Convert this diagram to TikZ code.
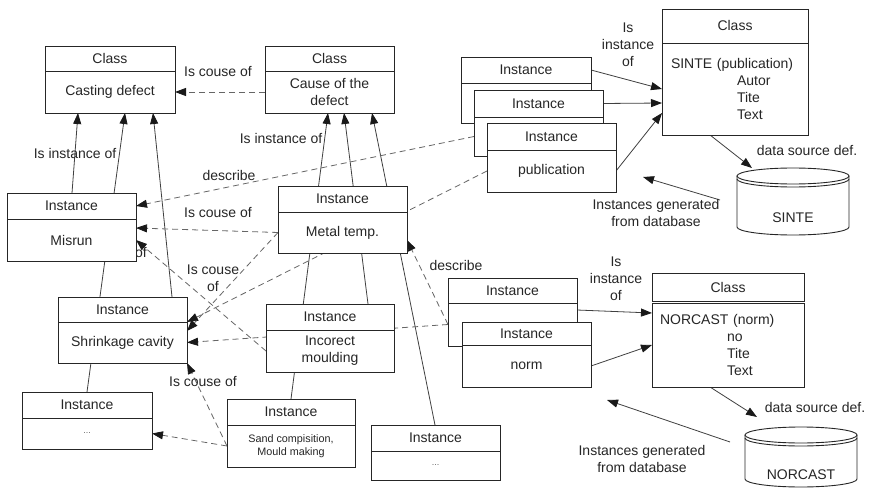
\documentclass[tikz,border=0pt]{standalone}
\usepackage{fontspec}
\setsansfont{Liberation Sans}
\usetikzlibrary{arrows.meta, positioning, calc, backgrounds}

\begin{document}
\begin{tikzpicture}[
    x=1pt, y=-1pt,
    font=\sffamily\fontsize{14}{17}\selectfont,
    >={Triangle[length=11pt, width=8pt, color=black!90]},
    hd/.style={draw=black!85, fill=white, line width=0.9pt, outer sep=0pt, minimum width=129pt, minimum height=26pt, inner sep=0pt, anchor=north west, text=black!85},
    bd/.style={draw=black!85, fill=white, line width=0.9pt, outer sep=0pt, minimum width=129pt, inner sep=2pt, align=center, text=black!85, below=0pt of #1},
    dots/.style={font=\sffamily\fontsize{9}{11}\selectfont, text=black!60},
    inst/.style={->, black!75, line width=0.8pt},
    rel/.style={->, black!60, line width=0.8pt, dash pattern=on 6pt off 4pt},
    lbl/.style={text=black!85, align=center, inner sep=1pt},
    db/.style={draw=black!85, line width=0.9pt}
]
\useasboundingbox (0,0) rectangle (869,494);

    % Classes of the defect model
    \node[hd, minimum width=130pt, minimum height=25pt] (castdef-h) at (45,46) {Class};
    \node[bd=castdef-h, minimum width=130pt, minimum height=42pt] (castdef) {Casting defect};
    \node[hd, minimum height=25pt] (cause-h) at (265,46) {Class};
    \node[bd=cause-h, minimum height=42pt] (cause) {Cause of the\\defect};

    % Instances
    \node[hd] (misrun-h) at (7,193) {Instance};
    \node[bd=misrun-h, minimum height=42pt] (misrun) {Misrun};
    \node[hd] (metal-h) at (278,186) {Instance};
    \node[bd=metal-h, minimum height=41pt] (metal) {Metal temp.};
    \node[hd, minimum height=25pt] (shrink-h) at (58,297) {Instance};
    \node[bd=shrink-h, minimum height=41pt] (shrink) {Shrinkage cavity};
    \node[hd, minimum width=130pt] (moreL-h) at (22,392) {Instance};
    \node[bd=moreL-h, minimum width=130pt, minimum height=31pt, dots] (moreL) {...};
    \node[hd, minimum width=128pt] (moulding-h) at (266,304) {Instance};
    \node[bd=moulding-h, minimum width=128pt, minimum height=42pt] (moulding) {Incorect\\moulding};
    \node[hd, minimum width=128pt] (sand-h) at (227,399) {Instance};
    \node[bd=sand-h, minimum width=128pt, minimum height=42pt, font=\sffamily\fontsize{10.8}{13}\selectfont] (sand) {Sand compisition,\\Mould making};
    \node[hd] (moreM-h) at (371,425) {Instance};
    \node[bd=moreM-h, minimum height=29pt, dots] (moreM) {...};

    % --- SINTE ---
    \node[hd, minimum width=130pt] (pubA-h) at (461,57) {Instance};
    \node[bd=pubA-h, minimum width=130pt, minimum height=40pt] (pubA) {};
    \node[hd, minimum height=27pt] (pubB-h) at (474,90) {Instance};
    \node[bd=pubB-h, minimum height=39pt] (pubB) {};
    \node[hd, minimum height=27pt] (pubC-h) at (487,123) {Instance};
    \node[bd=pubC-h, minimum height=42pt] (pubC) {publication};

    \node[hd, minimum width=146pt, minimum height=34pt] (sinte-h) at (662,9) {Class};
    \node[bd=sinte-h, minimum width=146pt, minimum height=92pt, align=left, text width=128pt] (sinte)
        {SINTE (publication)\\\hspace*{66pt}Autor\\\hspace*{66pt}Tite\\\hspace*{66pt}Text};

    \draw[db] (737,176) -- (737,227) arc[start angle=180, end angle=0, x radius=56, y radius=8] -- (849,176);
    \draw[db] (793,176) ellipse[x radius=56, y radius=8];
    \draw[db] (737,179) arc[start angle=180, end angle=0, x radius=56, y radius=8];
    \node[lbl] (sintedb) at (793,218) {SINTE};
    \coordinate (sintedb-in) at (752,168);
    \coordinate (sintedb-out) at (720,200);
    \coordinate (sintegen) at (643,177);

    % --- NORCAST ---
    \node[hd, minimum height=25pt] (normD-h) at (448,278) {Instance};
    \node[bd=normD-h, minimum height=43pt] (normD) {};
    \node[hd, minimum height=23pt] (normE-h) at (462,322) {Instance};
    \node[bd=normE-h, minimum height=42pt] (normE) {norm};

    \node[hd, minimum width=152pt, minimum height=28pt] (norcast-h) at (652,273) {Class};
    \node[bd=norcast-h, below=2pt of norcast-h, minimum width=152pt, minimum height=84pt, align=left, text width=136pt] (norcast)
        {NORCAST (norm)\\\hspace*{67pt}no\\\hspace*{67pt}Tite\\\hspace*{67pt}Text};

    \draw[db] (745,435) -- (745,479) arc[start angle=180, end angle=0, x radius=56, y radius=8] -- (857,435);
    \draw[db] (801,435) ellipse[x radius=56, y radius=8];
    \draw[db] (745,438) arc[start angle=180, end angle=0, x radius=56, y radius=8];
    \node[lbl] (norcastdb) at (801,475) {NORCAST};
    \coordinate (norcastdb-in) at (757,417);
    \coordinate (norcastdb-out) at (730,442);
    \coordinate (norcastgen) at (607,400);

    \begin{scope}[on background layer]
    \fill[white] (0,0) rectangle (869,494);

    % Is instance of
    \draw[inst] ($(misrun-h.north west)+(65,0)$) -- ($(castdef.south west)+(33,0)$);
    \draw[inst] ($(moreL-h.north west)+(65,0)$) -- ($(castdef.south west)+(80,0)$);
    \draw[inst] ($(shrink-h.north west)+(114,0)$) -- ($(castdef.south west)+(108,0)$);
    \draw[inst] ($(sand-h.north west)+(64,0)$) -- ($(cause.south west)+(63,0)$);
    \draw[inst] ($(moulding-h.north west)+(102,0)$) -- ($(cause.south west)+(79,0)$);
    \draw[inst] ($(moreM-h.north west)+(64,0)$) -- ($(cause.south west)+(107,0)$);
    \draw[inst] (pubA-h.east) -- (sinte.west);
    \draw[inst] (pubB-h.east) -- ($(sinte.west)+(0,14)$);
    \draw[inst] (pubC.east) -- ($(sinte.west)+(0,24)$);
    \draw[inst] ($(normD.north east)+(0,7)$) -- ($(norcast.north west)+(0,10)$);
    \draw[inst] (normE.east) -- ($(norcast.north west)+(0,42)$);
    \node[lbl] (l-inst1) at (75,153) {Is instance of};
    \node[lbl] (l-inst2) at (281,138) {Is instance of};
    \node[lbl] (l-inst3) at (628,45) {Is\\instance\\of};
    \node[lbl] (l-inst4) at (616,279) {Is\\instance\\of};

    % data sources
    \draw[inst] ($(sinte.south west)+(48,0)$) -- (sintedb-in);
    \draw[inst] (sintedb-out) -- (sintegen);
    \draw[inst] ($(norcast.south west)+(58,0)$) -- (norcastdb-in);
    \draw[inst] (norcastdb-out) -- (norcastgen);
    \node[lbl] (l-src1) at (807,150) {data source def.};
    \node[lbl] (l-src2) at (815,407) {data source def.};
    \node[lbl] (l-gen1) at (656,213) {Instances generated\\from database};
    \node[lbl] (l-gen2) at (642,459) {Instances generated\\from database};

    % Is couse of / describe
    \draw[rel] (cause.west) -- (castdef.east);
    \draw[rel] (pubB.west) -- (misrun-h.east);
    \draw[rel] (pubC.west) -- (shrink.north east);
    \draw[rel] (metal.west) -- ($(misrun.north east)+(0,9)$);
    \draw[rel] (metal.west) -- ($(shrink.north east)+(0,9)$);
    \draw[rel] (moulding.west) -- (misrun.east);
    \draw[rel] (normD.west) -- (shrink.east);
    \draw[rel] (normD.west) -- ($(metal.south east)+(0,-13)$);
    \draw[rel] (sand.west) -- (shrink.south east);
    \draw[rel] (sand.west) -- (moreL.east);
    \node[lbl] (l-cause1) at (218,72) {Is couse of};
    \node[lbl] (l-desc1) at (229,175) {describe};
    \node[lbl] (l-cause2) at (218,213) {Is couse of};
    \node[lbl] (l-cause3) at (141,253) {of};
    \node[lbl] (l-cause4) at (213,278) {Is couse\\of};
    \node[lbl] (l-cause5) at (203,382) {Is couse of};
    \node[lbl] (l-desc2) at (456,265) {describe};
    \end{scope}

\end{tikzpicture}
\end{document}
